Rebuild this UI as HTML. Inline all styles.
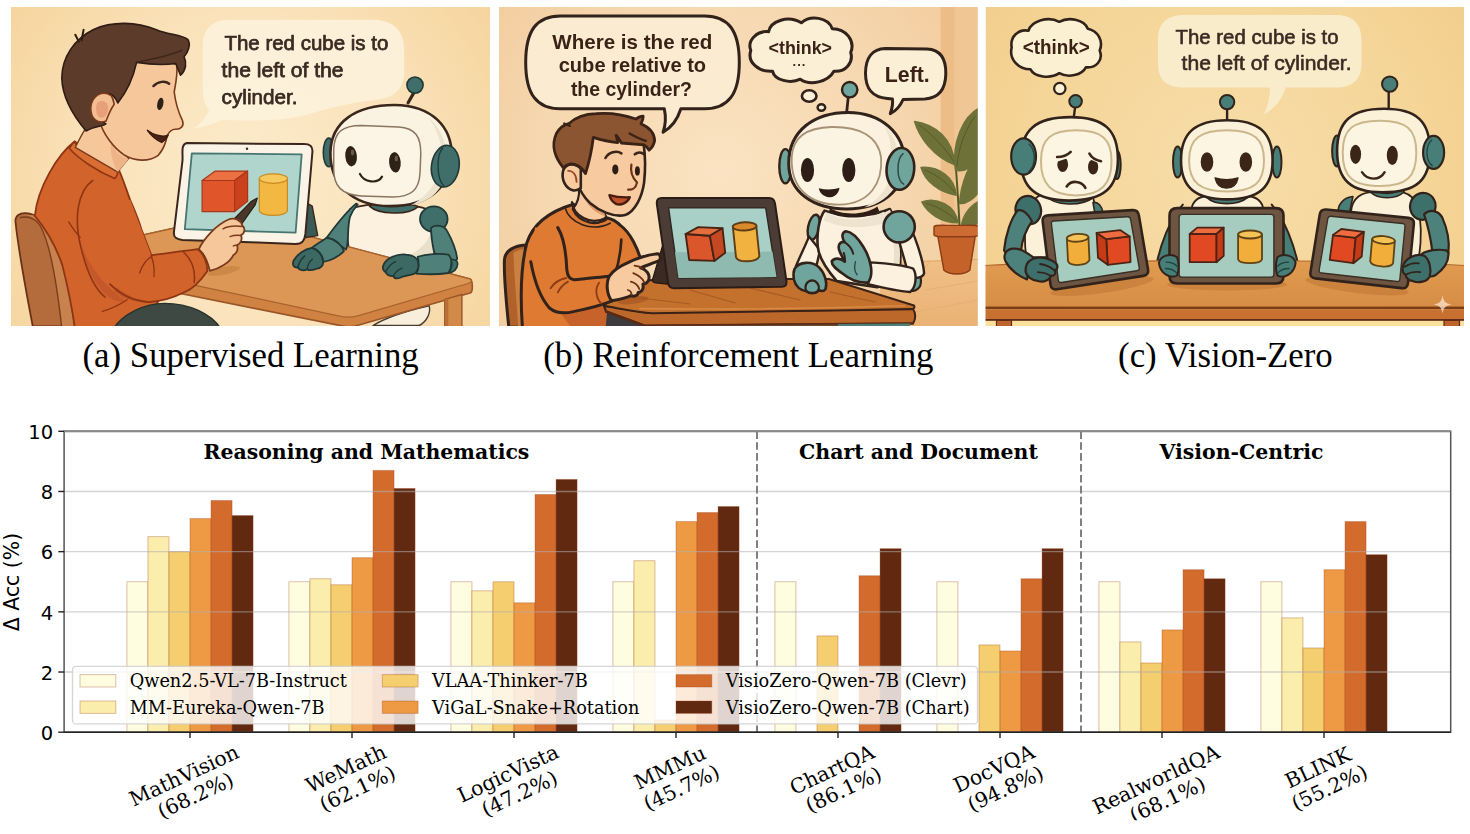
<!DOCTYPE html>
<html lang="en"><head><meta charset="utf-8"><title>Vision-Zero figure</title>
<style>
html,body{margin:0;padding:0;background:#fff;}
body{width:1470px;height:834px;overflow:hidden;}
svg{display:block;}
.cap{font-family:"Liberation Serif","Times New Roman",serif;font-size:34.8px;fill:#000;text-anchor:middle;}
</style></head><body>
<svg width="1470" height="834" viewBox="0 0 1470 834">
<rect width="1470" height="834" fill="#fff"/>
<defs>
<clipPath id="clipA"><rect x="11" y="7" width="479" height="319"/></clipPath>
<clipPath id="clipB"><rect x="499" y="7" width="478.8" height="319"/></clipPath>
<clipPath id="clipC"><rect x="985.5" y="7" width="478.5" height="319"/></clipPath>
<radialGradient id="bgA" gradientUnits="userSpaceOnUse" cx="250" cy="180" r="300">
<stop offset="0" stop-color="#FCEBCB"/><stop offset="0.55" stop-color="#FAE2BA"/><stop offset="1" stop-color="#F6D49C"/>
</radialGradient>
<radialGradient id="bgB" gradientUnits="userSpaceOnUse" cx="720" cy="170" r="300">
<stop offset="0" stop-color="#FAE3C2"/><stop offset="0.6" stop-color="#F6D7AF"/><stop offset="1" stop-color="#F2CB9C"/>
</radialGradient>
<radialGradient id="bgC" gradientUnits="userSpaceOnUse" cx="1225" cy="170" r="300">
<stop offset="0" stop-color="#F8DDA8"/><stop offset="0.6" stop-color="#F5D69A"/><stop offset="1" stop-color="#F2CE8C"/>
</radialGradient>
<linearGradient id="tblC" x1="0" y1="0" x2="0" y2="1"><stop offset="0" stop-color="#E19C52"/><stop offset="1" stop-color="#D68C44"/></linearGradient>
<linearGradient id="floorB" x1="0" y1="0" x2="0" y2="1"><stop offset="0" stop-color="#F0C088"/><stop offset="1" stop-color="#EAB274"/></linearGradient>
<filter id="soft" x="0" y="0" width="100%" height="100%" filterUnits="objectBoundingBox"><feGaussianBlur stdDeviation="0.45"/></filter>
</defs>
<g id="panelA" clip-path="url(#clipA)" filter="url(#soft)" stroke-linejoin="round" stroke-linecap="round">
<rect x="11" y="7" width="479" height="319" fill="url(#bgA)"/>
<path d="M 228 19.8 L 375 19.8 C 395 21 404 32 404.2 50 L 404.2 72 C 404 90 394 98 372 100.5 C 350 103 328 108 308 114.5 C 292 119 270 120.7 250 120.7 L 222 120 C 212 124 204 127 194 128.6 C 202 122 207 116 209 110 C 204 104 202.8 96 202.8 88 L 202.8 45 C 203 30 212 20 228 19.8 Z" fill="#FCF1DA" fill-opacity="0.93"/>
<g font-family="'Liberation Sans', Arial, sans-serif" font-size="21" fill="#3a2a22" stroke="#3a2a22" stroke-width="0.75">
<text x="224.4" y="49.6" textLength="164" lengthAdjust="spacingAndGlyphs">The red cube is to</text>
<text x="221.6" y="76.7" textLength="122" lengthAdjust="spacingAndGlyphs">the left of the</text>
<text x="221.6" y="103.9" textLength="76" lengthAdjust="spacingAndGlyphs">cylinder.</text>
</g>
<path d="M 15.4 221.0 C 15.4 215.6 19.6 212.8 25.8 213.2 C 30.5 213.7 34.4 214.8 36.7 217.1 C 46.8 226.5 56.2 245.2 62.4 265.5 C 67.1 284.2 71.0 306.0 74.1 326.5 L 32.8 326.5 C 26.6 293.5 18.8 254.5 15.4 221.0 Z" fill="#B46C3E" stroke="#6b3216" stroke-width="1.8"/>
<path d="M 25.8 215.6 C 31.3 215.6 35.9 218.7 40.6 226.5 C 50.0 243.6 56.2 277.9 61.6 326.5 L 74.1 326.5 C 71.0 306.0 67.1 284.2 62.4 265.5 C 56.2 245.2 46.8 226.5 36.7 217.1 C 34.4 215.3 29.7 214.3 25.8 215.6 Z" fill="#C8824E"/>
<path d="M 20.4 217.5 C 28.1 215.6 35.9 218.7 40.6 226.5 C 50.0 243.6 56.2 277.9 61.6 326.5" fill="none" stroke="#7a3e1c" stroke-width="1.4"/>
<path d="M 350.3 208.9 C 344.7 224.0 347.5 243.3 350.3 257.1 L 438.5 265.4 C 437.1 243.3 435.7 224.0 430.2 210.3 C 410.9 202.0 369.5 202.0 350.3 208.9 Z" fill="#FBF1DE" stroke="#3a261c" stroke-width="1.8"/>
<path d="M 410.9 254.4 C 421.9 248.8 432.9 237.8 432.9 221.3 C 437.1 237.8 437.4 254.4 437.4 264.8 Z" fill="#EADFC8"/>
<path d="M 373.0 325.5 C 386.2 317.6 406.0 311.0 429.2 305.8 C 431.0 312.3 427.1 321.6 419.2 325.5 Z" fill="#F8EEDC" stroke="#4a3a2e" stroke-width="1.4"/>
<path d="M 369.5 206.1 C 377.8 214.4 408.1 215.8 417.8 206.9 C 416.4 203.4 372.3 202.5 369.5 206.1 Z" fill="#3F6E6A" stroke="#3a261c" stroke-width="1.6"/>
<path d="M 134.9 236.9 L 176.5 227.6 L 306.3 235.7 L 470.4 279.1 C 472.9 281.0 472.9 290.8 470.9 292.8 L 359.0 325.1 C 351.7 327.6 345.5 327.1 338.2 325.1 L 166.7 290.8 L 169.2 279.8 Z" fill="#CF8242" stroke="#9a5626" stroke-width="1.6"/>
<path d="M 134.9 236.9 L 176.5 227.6 L 306.3 235.7 L 470.4 279.1 C 472.4 280.5 470.9 282.5 468.0 283.5 L 357.8 315.8 C 350.4 318.0 345.5 317.8 338.2 315.8 L 169.2 279.8 Z" fill="#DC9654" stroke="#a9632e" stroke-width="1.2"/>
<path d="M 444.7 299.4 L 461.9 294.5 L 461.9 327.6 L 444.7 327.6 Z" fill="#D28A48" stroke="#9a5626" stroke-width="1.4"/>
<path d="M 444.7 299.4 L 448.4 298.4 L 448.4 327.6 L 444.7 327.6 Z" fill="#B96E34"/>
<path d="M 307.5 203.4 L 312.2 206.1 L 317.7 235.6 L 303.9 237.8 Z" fill="#3b5a57" stroke="#3a261c" stroke-width="1.4"/>
<path d="M 187.1 143.1 C 180.1 144.1 183.3 154.3 182.4 161.4 L 174.0 231.5 C 173.1 237.6 176.8 239.5 182.4 239.9 L 295.6 243.9 C 302.6 243.9 304.5 240.4 305.4 233.9 L 312.4 152.0 C 312.9 145.9 309.6 144.1 304.0 144.1 Z" fill="#FBF4E6" stroke="#3a261c" stroke-width="2"/>
<path d="M 191.8 153.4 L 301.7 154.3 L 295.6 232.7 L 184.8 229.2 Z" fill="#B0D5CC" stroke="#467670" stroke-width="1.8"/>
<ellipse cx="247.0" cy="148.7" rx="1.2" ry="1.2" fill="#3a2a22"/>
<path d="M 202.1 180.5 L 234.6 180.5 L 234.6 211.6 L 202.1 211.6 Z" fill="#E1552B" stroke="#a8361a" stroke-width="1.2"/>
<path d="M 202.1 180.5 L 215.3 171.1 L 247.6 171.1 L 234.6 180.5 Z" fill="#EC6F42" stroke="#a8361a" stroke-width="1.2"/>
<path d="M 234.6 180.5 L 247.6 171.1 L 247.6 201.4 L 234.6 211.6 Z" fill="#C9431F" stroke="#a8361a" stroke-width="1.2"/>
<path d="M 259.3 178.6 L 259.3 210.3 C 259.3 217.1 287.4 217.1 287.4 210.3 L 287.4 178.6 Z" fill="#F3B843" stroke="#c98a22" stroke-width="1.2"/>
<ellipse cx="273.4" cy="178.6" rx="14.1" ry="4.7" fill="#F7C95C" stroke="#c98a22" stroke-width="1.2"/>
<path d="M 356.1 203.6 C 346.9 211.2 335.0 226.3 326.4 238.1 C 330.7 237.6 337.2 240.3 340.4 245.7 L 346.0 249.5 C 349.0 245.7 346.9 227.4 350.1 216.6 C 352.3 211.2 355.5 206.9 357.7 204.5 Z" fill="#4F807A" stroke="#203836" stroke-width="1.8"/>
<path d="M 326.4 238.1 C 321.0 241.4 315.6 244.6 311.8 247.9 C 317.8 248.9 323.1 255.4 323.1 261.9 C 330.7 260.8 337.2 257.6 343.9 251.3 C 342.6 245.7 333.9 238.1 326.4 238.1 Z" fill="#4F807A" stroke="#203836" stroke-width="1.8"/>
<path d="M 311.8 247.9 C 304.8 248.9 297.3 254.3 293.5 260.8 C 291.9 265.1 294.0 267.8 297.8 267.5 C 299.4 270.5 303.7 271.1 307.0 269.4 C 309.1 270.5 313.4 270.0 316.1 268.9 C 321.0 268.4 323.7 265.1 323.1 261.3 C 322.6 255.4 317.8 249.5 311.8 247.9 Z" fill="#3E6965" stroke="#203836" stroke-width="1.8"/>
<path d="M 297.8 267.5 C 298.9 263.0 301.6 258.6 304.8 255.9 M 307.0 269.4 C 307.5 265.1 309.7 261.3 312.4 259.2" fill="none" stroke="#203836" stroke-width="1.4"/>
<ellipse cx="433.8" cy="219.1" rx="13.8" ry="12.7" fill="#3F6E6A" stroke="#203836" stroke-width="1.8"/>
<path d="M 431.0 227.9 C 435.0 224.0 444.2 225.3 446.9 230.6 C 452.1 239.8 456.1 249.0 457.2 258.9 C 456.1 261.6 452.1 262.5 450.6 259.8 C 445.5 256.9 438.9 254.6 434.3 253.2 C 432.3 243.7 431.0 235.8 431.0 227.9 Z" fill="#4F807A" stroke="#203836" stroke-width="1.8"/>
<path d="M 450.6 259.6 C 454.8 259.1 457.7 260.9 457.7 263.8 C 457.2 269.1 453.5 272.2 448.2 273.0 C 452.1 267.8 452.1 262.5 450.6 259.6 Z" fill="#3F6E6A" stroke="#203836" stroke-width="1.6"/>
<path d="M 417.6 256.9 C 425.8 254.0 440.3 253.0 448.4 254.6 C 452.4 258.5 452.4 267.8 448.4 273.0 C 438.9 274.4 425.8 274.4 416.3 273.6 C 418.6 268.8 419.2 262.2 417.6 256.9 Z" fill="#4F807A" stroke="#203836" stroke-width="1.8"/>
<path d="M 383.5 264.9 C 386.2 258.3 396.7 253.6 406.0 254.6 C 412.6 255.0 417.2 257.6 418.1 262.2 C 419.2 267.5 417.2 272.8 413.9 273.8 C 408.6 275.4 402.0 276.1 399.4 278.0 C 396.7 278.7 394.1 278.0 393.4 276.1 C 390.1 276.1 386.8 274.7 385.5 272.1 C 382.9 270.8 382.2 267.5 383.5 264.9 Z" fill="#3E6965" stroke="#203836" stroke-width="1.8"/>
<path d="M 385.5 272.1 C 387.5 267.5 391.5 263.5 395.4 261.6 M 393.4 276.1 C 395.4 272.1 398.7 269.5 402.0 268.2" fill="none" stroke="#203836" stroke-width="1.4"/>
<ellipse cx="328.8" cy="152.4" rx="5.5" ry="14.3" fill="#3F6E6A" stroke="#203836" stroke-width="1.6"/>
<path d="M 408.1 102.8 L 416.4 88.4" fill="none" stroke="#3a261c" stroke-width="3.2"/>
<ellipse cx="415.0" cy="85.1" rx="8.1" ry="8.1" fill="#3F6E6A" stroke="#203836" stroke-width="1.6"/>
<path d="M 330.4 152.4 C 331.0 122.1 355.8 105.0 394.4 105.0 C 432.9 105.5 451.7 127.6 451.7 155.1 C 451.7 185.4 430.2 206.1 390.2 206.1 C 350.3 206.1 329.9 182.7 330.4 152.4 Z" fill="#FBF3E2" stroke="#3a261c" stroke-width="2.6"/>
<path d="M 427.4 116.5 C 444.0 130.3 452.2 155.1 444.0 179.9 C 438.5 193.7 427.4 202.0 410.9 205.3 C 432.9 193.7 444.0 171.7 441.2 149.6 C 439.8 135.8 434.3 124.8 427.4 116.5 Z" fill="#EDE2CC"/>
<path d="M 333.7 149.6 C 334.3 131.7 342.5 125.4 361.3 125.4 L 398.5 127.0 C 415.9 128.1 420.8 137.2 420.8 153.7 L 420.0 173.0 C 419.2 190.4 410.3 197.0 393.0 197.0 L 361.3 195.9 C 341.4 194.8 333.7 186.0 333.7 168.9 Z" fill="#FCF4E4" stroke="#8a7460" stroke-width="1.5"/>
<ellipse cx="445.3" cy="166.2" rx="13.8" ry="20.9" fill="#3F6E6A" stroke="#203836" stroke-width="1.6" transform="rotate(8 445.3 166.2)"/>
<path d="M 442.6 148.2 C 436.3 155.1 436.3 178.6 444.0 186.0" fill="none" stroke="#203836" stroke-width="1.3"/>
<ellipse cx="351.1" cy="156.2" rx="5.8" ry="10.2" fill="#2e2019" transform="rotate(-5 351.1 156.2)"/>
<ellipse cx="394.9" cy="162.3" rx="5.8" ry="10.2" fill="#2e2019" transform="rotate(-5 394.9 162.3)"/>
<ellipse cx="352.5" cy="152.4" rx="1.7" ry="2.8" fill="#6b5a4e"/>
<ellipse cx="396.3" cy="158.4" rx="1.7" ry="2.8" fill="#6b5a4e"/>
<path d="M 359.9 173.9 C 364.0 182.7 377.8 184.1 382.0 176.6" fill="none" stroke="#2e2019" stroke-width="2.2"/>
<path d="M 74.8 141.3 C 56.9 155.1 37.6 188.2 34.8 215.8 C 48.6 232.3 56.9 248.8 62.4 265.4 C 67.9 287.4 72.0 306.7 75.0 328.8 L 139.5 328.8 C 153.3 315.0 164.4 292.9 164.4 276.4 L 151.4 255.2 L 141.5 229.5 C 137.3 215.8 132.7 206.1 130.2 200.1 C 125.8 188.2 121.6 174.4 116.9 165.6 C 103.7 162.0 87.2 152.4 74.8 141.3 Z" fill="#D2632B" stroke="#8e3513" stroke-width="1.8"/>
<path d="M 113.4 328.8 C 123.0 313.6 145.1 303.4 164.4 303.4 C 189.2 303.4 211.2 313.6 220.9 328.8 Z" fill="#3E4A42" stroke="#26302a" stroke-width="1.4"/>
<path d="M 79.6 239.0 C 85.8 262.3 104.5 287.3 126.3 301.3 C 118.5 302.9 110.7 299.7 104.5 293.5 C 92.0 281.0 82.7 259.2 79.6 239.0 Z" fill="#C5582A"/>
<path d="M 68.7 221.8 C 72.6 228.1 76.5 233.5 80.3 237.4 M 102.2 311.4 C 110.7 309.1 120.1 304.4 127.1 299.7" fill="none" stroke="#8e3513" stroke-width="1.3"/>
<path d="M 92.7 180.5 C 77.5 191.0 73.9 218.5 80.6 246.1 C 85.8 268.1 92.7 287.4 105.1 297.1" fill="none" stroke="#8e3513" stroke-width="1.6"/>
<path d="M 130.3 200.0 L 151.3 255.3 L 183.3 251.4 L 197.3 249.1 C 203.5 253.0 207.4 262.4 207.4 270.9 C 200.4 281.1 192.6 288.9 184.8 292.0 C 175.5 296.7 161.4 301.3 149.0 302.1 C 133.4 301.3 119.4 293.5 110.0 284.2 L 110.0 200.0 Z" fill="#D2632B"/>
<path d="M 116.2 287.3 C 127.1 296.7 141.2 301.0 152.1 301.3 C 141.2 304.1 124.0 299.8 114.7 291.2 Z" fill="#BD5424"/>
<path d="M 151.3 255.3 C 161.4 253.8 175.5 252.2 197.3 249.1 C 203.5 253.0 207.4 262.4 207.4 270.9 C 200.4 281.1 192.6 288.9 184.8 292.0 C 175.5 296.7 161.4 301.3 149.0 302.1 C 133.4 301.3 119.4 293.5 110.0 284.2" fill="none" stroke="#8e3513" stroke-width="1.8"/>
<path d="M 183.3 251.8 C 191.1 259.2 195.7 270.2 194.2 282.3" fill="none" stroke="#8e3513" stroke-width="1.5"/>
<path d="M 139.6 273.0 C 143.1 262.4 148.7 258.0 152.1 256.1 M 154.0 276.7 C 154.6 268.6 153.7 262.4 151.5 257.1" fill="none" stroke="#8e3513" stroke-width="1.3"/>
<path d="M 73.9 141.9 C 81.7 151.0 101.0 162.0 116.9 166.2 C 118.9 171.7 117.5 175.8 114.7 178.6 C 98.2 171.7 78.9 159.3 69.3 148.2 Z" fill="#DA6E33" stroke="#8e3513" stroke-width="1.6"/>
<ellipse cx="223.8" cy="270.9" rx="16.4" ry="3.7" fill="#B8763A" transform="rotate(-12 223.8 270.9)" fill-opacity="0.45"/>
<path d="M 229.7 223.4 L 251.1 201.6 L 257.3 198.1 L 255.3 204.7 L 238.2 229.0 Z" fill="#4a372c" stroke="#2a1c14" stroke-width="1.2"/>
<path d="M 198.9 249.1 C 203.5 239.0 216.0 224.9 228.5 219.5 C 234.7 217.1 241.0 220.3 242.5 225.7 C 245.6 228.1 244.9 233.5 241.0 235.1 C 242.5 239.0 241.0 243.7 237.1 245.2 C 238.6 249.9 236.3 253.8 233.2 255.3 C 230.0 262.4 219.1 268.6 209.8 270.9 C 207.9 262.4 204.3 253.8 198.9 249.1 Z" fill="#F6C79A" stroke="#7a3a1c" stroke-width="1.8"/>
<path d="M 223.0 228.8 C 228.5 225.7 236.3 225.7 242.5 226.5 M 230.0 236.6 C 233.9 235.1 237.8 235.1 241.0 235.5 M 233.2 246.0 C 234.7 245.2 236.3 245.2 237.5 245.5" fill="none" stroke="#7a3a1c" stroke-width="1.4"/>
<path d="M 86.1 115.8 L 112.8 115.8 C 112.8 139.5 120.8 151.4 128.7 158.3 C 124.7 163.2 120.8 167.2 117.8 172.1 L 75.3 147.4 C 78.2 141.5 82.2 133.6 86.1 127.6 Z" fill="#F6C79A" stroke="#7a3a1c" stroke-width="1.4"/>
<path d="M 110.9 141.5 C 114.8 151.4 120.8 157.3 128.7 158.9 L 117.8 172.1 C 112.8 163.2 109.9 153.3 110.9 141.5 Z" fill="#EDB488"/>
<path d="M 120.8 62.4 C 140.5 60.4 164.3 60.4 176.5 64.3 C 178.1 72.2 175.7 84.1 174.2 92.0 C 175.2 99.9 178.1 111.8 182.5 120.7 C 184.4 125.6 181.1 129.6 175.2 129.2 C 171.2 129.2 169.2 131.6 167.2 135.5 C 166.2 141.5 163.3 149.4 158.3 155.3 C 148.4 162.2 134.6 161.2 124.7 155.3 C 112.8 147.4 103.0 133.6 99.0 119.7 L 95.0 84.1 Z" fill="#F6C79A" stroke="#7a3a1c" stroke-width="1.6"/>
<path d="M 147.4 130.3 C 150.9 135.4 156.0 139.6 161.7 142.5 C 164.6 140.9 166.8 138.4 168.2 135.2 C 161.1 137.6 152.9 134.7 147.4 130.3 Z" fill="#4a2416" stroke="#3a1a0e" stroke-width="1.4"/>
<ellipse cx="160.3" cy="103.9" rx="3.0" ry="6.3" fill="#2e2019" transform="rotate(12 160.3 103.9)"/>
<path d="M 153.4 86.1 C 158.3 81.1 165.3 80.6 169.2 83.7" fill="none" stroke="#3a261c" stroke-width="2.4"/>
<path d="M 86.1 131.0 C 73.3 115.8 62.4 98.0 61.8 78.2 C 61.8 56.4 75.3 38.6 93.1 29.7 C 112.8 20.8 136.6 21.8 156.4 29.7 C 168.2 34.7 182.1 34.7 188.0 39.6 C 191.0 44.6 188.0 52.5 184.1 56.8 C 187.0 62.4 186.0 70.3 180.5 75.2 C 178.5 70.3 177.1 66.3 175.7 63.5 C 162.3 65.3 148.4 64.3 136.6 62.4 C 133.6 76.2 126.7 92.0 117.8 102.9 C 115.8 98.0 112.8 95.0 109.9 94.0 C 103.0 92.0 97.0 98.0 96.6 107.8 C 96.6 115.8 100.0 121.7 105.9 123.7 C 103.0 126.6 95.0 125.6 86.1 131.0 Z" fill="#5B3A2A" stroke="#2e1c14" stroke-width="1.6"/>
<path d="M 75.3 34.7 L 78.8 41.6 M 83.6 29.7 L 81.6 40.2" fill="none" stroke="#2e1c14" stroke-width="2"/>
<path d="M 136.6 62.4 C 148.4 59.4 168.2 56.8 182.1 50.1" fill="none" stroke="#3d251a" stroke-width="1.4"/>
<path d="M 111.1 95.6 C 103.4 89.9 91.8 94.6 90.8 107.8 C 90.4 119.1 97.9 124.1 106.1 121.1 C 108.1 116.0 110.1 109.9 114.2 104.2 C 113.6 100.7 112.6 97.6 111.1 95.6 Z" fill="#F3BE92" stroke="#7a3a1c" stroke-width="1.6"/>
<path d="M 97.3 102.7 C 102.0 98.7 109.1 101.7 108.1 109.9 C 107.1 117.0 102.0 119.1 98.9 117.0 C 95.9 114.0 95.3 106.8 97.3 102.7 Z" fill="#E8A07A"/>
</g><g id="panelB" clip-path="url(#clipB)" filter="url(#soft)" stroke-linejoin="round" stroke-linecap="round">
<rect x="499" y="7" width="478.8" height="319" fill="url(#bgB)"/>
<rect x="940.7" y="7" width="14" height="260" fill="#EDBD88"/>
<rect x="954.7" y="7" width="24" height="260" fill="#F0C694"/>
<path d="M 880 262 L 978 259 L 978 326 L 880 326 Z" fill="url(#floorB)"/>
<path d="M 905 262 L 978 259.5" stroke="#E2A868" stroke-width="1.2"/>
<path d="M 925 290 L 978 281 M 915 312 L 978 300 M 930 262 L 905 290" stroke="#E6B074" stroke-width="1"/>
<path d="M 959.6 229.5 C 958.8 204.7 956.9 182.7 955.0 155.1" fill="none" stroke="#565a28" stroke-width="2"/>
<path d="M 955.5 170.3 C 951.4 141.3 963.8 116.5 978.9 108.3 L 978.9 156.5 C 973.4 167.5 963.8 172.2 955.5 170.3 Z" fill="#6E7238" stroke="#6E7238" stroke-width="1.6"/>
<path d="M 954.7 164.8 C 933.5 156.5 919.1 137.2 914.7 121.5 C 934.8 124.3 953.3 138.6 954.7 164.8 Z" fill="#6E7238" stroke="#6E7238" stroke-width="1.6"/>
<path d="M 956.1 195.1 C 939.0 192.3 925.2 181.3 921.1 167.5 C 939.5 166.2 955.0 177.7 956.1 195.1 Z" fill="#6E7238" stroke="#6E7238" stroke-width="1.6"/>
<path d="M 957.7 222.7 C 941.7 222.7 927.9 213.6 921.9 202.0 C 936.8 197.0 956.1 205.3 957.7 222.7 Z" fill="#6E7238" stroke="#6E7238" stroke-width="1.6"/>
<path d="M 959.6 203.4 C 961.0 182.7 969.3 163.4 978.9 153.7 L 978.9 192.3 C 972.6 199.8 966.5 204.2 959.6 203.4 Z" fill="#6E7238" stroke="#6E7238" stroke-width="1.6"/>
<path d="M 961.0 228.2 C 962.4 215.8 969.3 206.1 978.9 201.4 L 978.9 222.7 C 972.6 226.2 966.5 228.4 961.0 228.2 Z" fill="#6E7238" stroke="#6E7238" stroke-width="1.6"/>
<path d="M 956.9 166.2 C 958.3 146.9 966.5 127.6 974.8 116.5 M 954.1 162.0 C 944.5 146.9 930.7 133.1 919.7 125.4 M 955.5 193.2 C 947.2 182.7 936.2 174.4 925.2 170.3 M 956.9 220.7 C 947.2 211.6 936.2 206.1 926.6 203.4" fill="none" stroke="#565a28" stroke-width="1"/>
<path d="M 937.6 235.1 L 975.4 235.1 L 969.8 270.3 C 963.8 275.3 950.0 275.3 943.9 270.3 Z" fill="#C4622A" stroke="#8a3c16" stroke-width="1.4"/>
<path d="M 934.0 227.3 C 934.0 224.6 939.0 225.4 955.5 225.4 C 972.0 225.4 978.7 224.6 978.7 227.3 L 978.7 234.5 C 978.7 237.0 972.0 236.7 955.5 236.7 C 939.0 236.7 934.0 237.0 934.0 234.5 Z" fill="#CC6C32" stroke="#8a3c16" stroke-width="1.4"/>
<path d="M 504.4 260.0 C 505.0 250.4 514.6 245.6 525.6 245.0 L 524.8 327.2 L 508.8 327.2 C 506.2 302.0 503.8 278.0 504.4 260.0 Z" fill="#B0622C" stroke="#33221a" stroke-width="3"/>
<path d="M 513.4 252.8 C 517.0 250.4 521.8 249.2 525.1 249.0 L 524.4 327.2 L 518.2 327.2 C 517.0 302.0 514.0 278.0 513.4 252.8 Z" fill="#C9803F"/>
<ellipse cx="813.7" cy="227.3" rx="5.6" ry="12.8" fill="#6FA59D" stroke="#33221a" stroke-width="2.4" transform="rotate(12 813.7 227.3)"/>
<path d="M 809.0 236.6 C 804.8 246.8 799.4 257.7 795.9 266.3 L 815.7 268.6 C 817.3 262.4 818.8 256.1 819.9 249.9 Z" fill="#FBF1DE" stroke="#33221a" stroke-width="2.4"/>
<path d="M 824.6 210.6 C 818.8 218.7 816.5 234.3 817.8 246.8 C 818.8 257.7 825.9 268.6 836.8 281.1 L 877.3 287.3 L 899.2 273.3 C 902.3 251.5 899.2 223.4 889.8 209.0 C 871.1 217.2 843.0 217.2 824.6 210.6 Z" fill="#FBF1DE" stroke="#33221a" stroke-width="2.6"/>
<path d="M 883.6 213.3 C 892.9 228.1 896.0 249.9 892.9 268.6 L 899.2 268.6 C 901.5 249.9 899.2 224.9 889.8 209.7 Z" fill="#EBE0CA"/>
<path d="M 826.6 212.5 C 841.5 221.8 864.8 221.8 883.6 211.7 C 886.7 215.6 888.2 218.7 889.0 221.8 C 868.0 229.6 841.5 228.8 823.5 220.3 Z" fill="#EDE3CF"/>
<path d="M 829.8 208.1 C 841.5 215.6 864.8 215.6 877.3 206.5 L 879.2 210.9 C 866.4 219.5 841.5 219.5 829.0 212.2 Z" fill="#2e1f18"/>
<path d="M 910.1 268.6 C 919.4 270.2 922.5 278.0 920.2 285.8 C 917.1 292.0 910.1 292.0 906.2 288.9 Z" fill="#6FA59D" stroke="#33221a" stroke-width="2.2"/>
<path d="M 897.6 235.9 C 903.8 229.6 913.2 230.4 914.7 237.4 C 919.4 249.9 923.3 262.4 924.1 273.3 C 922.5 278.0 914.7 279.5 908.5 274.8 C 905.4 262.4 901.5 249.9 897.6 235.9 Z" fill="#FBF1DE" stroke="#33221a" stroke-width="2.4"/>
<path d="M 870.3 262.4 C 883.6 263.2 902.3 264.7 913.2 268.6 C 917.1 274.8 916.3 287.3 910.1 292.0 C 897.6 291.2 880.4 287.3 868.0 284.2 Z" fill="#FBF1DE" stroke="#33221a" stroke-width="2.4"/>
<ellipse cx="899.2" cy="226.8" rx="15.6" ry="15.6" fill="#6FA59D" stroke="#33221a" stroke-width="2.6"/>
<path d="M 868.0 282.6 C 874.2 274.8 871.1 259.3 863.3 246.8 C 858.6 239.0 852.4 232.0 846.1 231.2 C 841.5 232.0 841.5 237.4 844.6 242.1 C 841.5 241.3 838.3 243.7 838.7 247.6 C 839.1 253.0 843.0 256.9 844.9 261.6 C 839.9 257.7 834.4 257.7 831.8 261.1 C 831.3 265.5 836.8 269.4 842.2 273.3 C 847.7 278.0 855.5 283.4 868.0 282.6 Z" fill="#6FA59D" stroke="#33221a" stroke-width="2.6"/>
<path d="M 844.6 242.1 C 849.3 245.2 852.4 249.9 853.2 253.8 M 844.9 261.6 C 845.5 258.5 844.6 255.4 843.8 253.0" fill="none" stroke="#33221a" stroke-width="2"/>
<path d="M 855.5 261.6 C 853.9 267.1 854.7 271.7 857.1 274.8" fill="none" stroke="#2f4a46" stroke-width="1.4"/>
<ellipse cx="785.4" cy="166.2" rx="6.1" ry="17.1" fill="#6FA59D" stroke="#33221a" stroke-width="2.4"/>
<path d="M 846.6 113.2 L 848.8 91.7" fill="none" stroke="#33221a" stroke-width="2.8"/>
<ellipse cx="849.7" cy="89.7" rx="7.7" ry="7.7" fill="#6FA59D" stroke="#33221a" stroke-width="2.4"/>
<path d="M 788.7 163.4 C 788.7 130.3 814.9 112.4 848.0 112.4 C 881.1 112.4 904.5 133.1 904.5 162.0 C 904.5 191.0 881.1 208.9 846.6 208.9 C 813.6 208.9 788.7 192.3 788.7 163.4 Z" fill="#FBF1DE" stroke="#33221a" stroke-width="3"/>
<path d="M 883.8 124.8 C 897.6 138.6 903.7 160.6 896.2 182.7 C 890.7 196.5 878.3 204.7 864.5 207.5 C 885.2 196.5 894.9 177.2 892.1 155.1 C 890.7 141.3 888.0 133.1 883.8 124.8 Z" fill="#EDE2CC"/>
<path d="M 791.8 156.5 C 792.9 135.8 809.4 127.6 831.5 127.0 C 859.0 126.5 878.3 135.8 881.1 157.9 C 882.7 182.7 870.1 203.6 839.7 204.7 C 809.4 204.7 790.1 188.2 791.8 156.5 Z" fill="#FCF4E2" stroke="#A89274" stroke-width="1.8"/>
<ellipse cx="900.4" cy="168.9" rx="13.8" ry="20.9" fill="#6FA59D" stroke="#33221a" stroke-width="2.6" transform="rotate(5 900.4 168.9)"/>
<path d="M 903.1 153.7 C 896.2 159.3 896.2 179.9 903.7 184.1" fill="none" stroke="#2f4a46" stroke-width="1.5"/>
<ellipse cx="807.5" cy="170.0" rx="6.6" ry="12.1" fill="#2e1f18"/>
<ellipse cx="848.8" cy="170.0" rx="6.6" ry="12.1" fill="#2e1f18"/>
<path d="M 818.8 188.2 C 826.0 189.9 832.9 189.9 839.5 187.7 C 838.6 195.1 833.1 197.3 829.0 197.3 C 823.8 196.5 819.9 193.7 818.8 188.2 Z" fill="#2e1f18"/>
<path d="M 573.6 204.2 C 552.9 210.3 533.6 221.3 526.7 243.3 C 520.4 268.1 520.4 301.2 522.6 330.2 L 610.8 330.2 L 616.3 305.3 C 627.3 298.5 638.3 279.2 642.5 265.4 C 638.3 248.8 630.1 232.3 620.4 225.4 C 616.3 221.3 612.1 219.1 607.5 218.0 C 599.7 225.4 583.2 222.7 573.6 204.2 Z" fill="#DE7A32" stroke="#33221a" stroke-width="3"/>
<path d="M 561.4 314.6 C 577.0 312.8 595.0 308.0 606.9 303.8 L 607.5 327.2 L 571.0 327.2 Z" fill="#C7642A"/>
<path d="M 605.7 327.2 L 607.5 306.8 C 616.5 302.0 630.9 306.8 645.9 312.8 L 645.9 327.2 Z" fill="#3C3A3C"/>
<path d="M 604 305.8 L 646 312.4 L 913 309 C 916 313 916 319 913 323.4 L 645 325.8 L 606 311.5 Z" fill="#BC672B" stroke="#3a2218" stroke-width="2"/>
<path d="M 606 311.5 L 645 325.8 L 913 323.4" stroke="#5a2c14" stroke-width="2.4" fill="none"/>
<path d="M 609 300 C 618 288 640 280 662 279 L 829 279 L 914 305.5 C 915 307.5 914 309 911 309.1 C 820 311 720 312.6 652 313.2 C 638 312.5 620 308.5 604 305.8 Z" fill="#C4712F" stroke="#3a2218" stroke-width="2"/>
<path d="M 640 308.6 C 720 309.6 820 308.4 905 305.8" stroke="#D78A44" stroke-width="1.6" fill="none"/>
<path d="M 690 290 L 735 303 M 750 288 L 800 300 M 640 298 L 690 304 M 830 292 L 875 302" stroke="#A85A24" stroke-width="1.2" fill="none"/>
<path d="M 838 324 L 910 323.5 L 910 327 L 838 327 Z" fill="#4d7f78"/>
<path d="M 650 326 L 838 324.5 L 838 327 L 650 327 Z" fill="#6b4630"/>
<path d="M 662.3 246.5 L 652.4 279.8 C 652.0 281.8 654.2 282.9 656.0 282.9 L 672.2 284.7 Z" fill="#3a2a24" stroke="#241812" stroke-width="1.2"/>
<path d="M 661.7 198.0 L 769.3 198.0 C 772.9 198.0 774.3 199.8 775.0 203.4 L 786.4 280.7 C 786.9 285.2 785.5 286.5 781.9 286.7 L 674.0 288.3 C 670.4 288.3 668.9 287.0 668.2 283.4 L 656.9 204.3 C 656.3 199.8 658.1 198.0 661.7 198.0 Z" fill="#4C3C34" stroke="#2a1c16" stroke-width="2"/>
<path d="M 668.6 207.9 L 765.7 207.9 L 776.5 277.1 L 678.5 278.0 Z" fill="#A9D0C6" stroke="#2f2620" stroke-width="1.4"/>
<path d="M 674.9 252.3 L 772.5 251.6 L 776.5 277.1 L 678.5 278.0 Z" fill="#8FBAAF"/>
<path d="M 685.6 234.0 L 709.9 235.8 L 714.4 260.9 L 689.2 260.0 Z" fill="#DB572A" stroke="#4a2416" stroke-width="1.9"/>
<path d="M 685.6 234.0 L 698.2 227.1 L 722.5 228.2 L 709.9 235.8 Z" fill="#E56E3E" stroke="#4a2416" stroke-width="1.9"/>
<path d="M 709.9 235.8 L 722.5 228.2 L 725.2 252.8 L 714.4 260.9 Z" fill="#C44A20" stroke="#4a2416" stroke-width="1.9"/>
<path d="M 732.9 227.1 L 736.0 257.3 C 738.7 263.1 756.7 262.4 759.4 256.4 L 756.3 226.4 Z" fill="#F2B23F" stroke="#5e3c14" stroke-width="1.9"/>
<ellipse cx="744.6" cy="226.4" rx="11.9" ry="4.1" fill="#DA8A2C" stroke="#5e3c14" stroke-width="1.9" transform="rotate(-2 744.6 226.4)"/>
<path d="M 794.7 268.6 C 799.4 261.6 811.8 260.8 818.8 267.1 C 825.1 273.3 827.4 282.6 825.6 288.9 C 823.5 292.0 820.4 291.2 818.8 289.7 C 817.3 293.6 810.3 294.3 806.4 291.2 C 800.9 290.4 795.5 286.5 793.9 279.5 C 793.1 274.8 793.4 271.7 794.7 268.6 Z" fill="#6FA59D" stroke="#33221a" stroke-width="2.6"/>
<path d="M 806.4 291.2 C 804.0 286.5 806.4 281.1 811.8 280.3 C 816.5 280.3 819.6 285.0 818.8 289.7" fill="none" stroke="#33221a" stroke-width="2.2"/>
<path d="M 557.8 227.6 C 563.8 237.2 566.2 254.0 566.8 269.6 C 567.4 275.6 569.8 279.4 574.0 279.8 C 583.0 279.2 597.4 277.4 609.3 276.2 C 606.3 284.0 606.9 294.8 612.3 300.8 C 602.1 305.0 587.8 308.6 573.4 311.6 C 563.8 314.0 555.4 312.8 549.4 308.0 C 539.8 297.2 533.8 278.0 530.8 261.8 L 535.0 227.6 Z" fill="#DE7A32"/>
<path d="M 557.8 227.6 C 563.8 237.2 566.2 254.0 566.8 269.6 C 567.4 275.6 569.8 279.4 574.0 279.8 C 583.0 279.2 597.4 277.4 609.3 276.2" fill="none" stroke="#33221a" stroke-width="3"/>
<path d="M 530.8 261.8 C 533.8 278.0 539.8 297.2 549.4 308.0 C 555.4 312.8 563.8 314.0 573.4 311.6 C 587.8 308.6 602.1 305.0 612.3 300.8" fill="none" stroke="#33221a" stroke-width="3"/>
<path d="M 599.1 282.8 C 595.2 287.6 595.2 297.2 601.2 303.4" fill="none" stroke="#8a3c16" stroke-width="1.8"/>
<path d="M 550.6 288.2 C 554.2 282.8 560.2 279.2 566.2 278.0 M 557.8 292.4 C 560.2 287.6 563.8 284.0 568.0 281.6" fill="none" stroke="#8a3c16" stroke-width="1.8"/>
<path d="M 621.3 239.6 C 620.7 251.6 618.3 264.8 614.7 274.6" fill="none" stroke="#33221a" stroke-width="2.6"/>
<ellipse cx="633.3" cy="300.2" rx="15.6" ry="3.6" fill="#9a4e1e" transform="rotate(-8 633.3 300.2)" fill-opacity="0.5"/>
<path d="M 609.3 276.2 C 612.9 270.8 620.1 266.0 628.5 262.4 C 636.9 258.2 648.9 254.6 657.3 253.7 C 660.9 253.7 661.2 260.0 658.5 260.9 C 653.7 263.0 646.5 265.4 640.5 267.8 C 646.5 269.6 650.1 274.4 648.9 279.2 C 647.7 282.8 645.3 284.0 642.9 284.0 C 644.1 288.8 641.7 292.4 638.1 292.4 C 638.1 295.4 634.5 297.2 630.9 295.4 C 626.1 298.4 617.7 299.6 611.7 300.8 C 606.9 294.8 605.7 284.0 609.3 276.2 Z" fill="#F7CB9F" stroke="#33221a" stroke-width="3"/>
<path d="M 634.5 265.7 C 638.1 266.2 640.5 266.9 642.3 268.4 M 633.3 273.2 C 639.3 275.6 642.9 279.2 644.7 282.8 M 630.9 281.6 C 635.7 282.8 638.1 285.2 639.3 289.0 M 627.9 290.0 C 630.3 290.6 631.5 292.4 631.5 294.8" fill="none" stroke="#6b3018" stroke-width="1.8"/>
<path d="M 579.0 187.3 C 579.8 196.7 576.6 204.5 572.7 209.1 C 579.0 223.2 599.2 227.8 606.3 216.9 L 602.4 209.1 Z" fill="#F7CB9F" stroke="#33221a" stroke-width="2.2"/>
<path d="M 580.8 192.0 C 586.8 206.0 596.1 213.8 605.5 216.2 L 603.1 209.1 C 594.6 207.6 586.8 201.3 580.8 192.0 Z" fill="#E29A66"/>
<path d="M 572.0 202.1 C 573.5 215.4 589.9 226.3 606.3 217.7" fill="none" stroke="#33221a" stroke-width="2.4"/>
<path d="M 564.9 207.6 C 569.6 223.2 591.4 232.5 610.2 223.2" fill="none" stroke="#33221a" stroke-width="1.6"/>
<path d="M 586.8 135.9 L 643.7 144.4 C 645.4 156.1 645.4 170.2 644.1 182.6 C 642.1 196.7 635.1 211.5 625.0 215.1 C 613.3 217.7 599.2 210.7 589.9 202.9 C 583.7 196.7 579.8 190.4 578.2 184.2 L 575.9 162.4 Z" fill="#F7CB9F" stroke="#33221a" stroke-width="2.6"/>
<path d="M 580.8 168.6 C 575.1 162.4 565.7 163.1 563.1 170.9 C 561.0 179.5 565.7 188.9 573.5 190.4 C 576.6 190.7 579.0 189.6 580.8 188.1 Z" fill="#F7CB9F" stroke="#33221a" stroke-width="2.6"/>
<path d="M 568.1 170.9 C 572.7 170.2 576.6 174.8 576.6 181.9" fill="none" stroke="#9a4a26" stroke-width="1.8"/>
<ellipse cx="615.3" cy="169.4" rx="3.1" ry="5.0" fill="#2e1f18"/>
<ellipse cx="637.4" cy="170.9" rx="2.5" ry="4.7" fill="#2e1f18"/>
<path d="M 605.5 158.0 C 608.6 152.2 616.4 150.2 621.4 153.3 M 634.8 154.3 C 637.9 151.8 641.7 152.1 644.1 154.3" fill="none" stroke="#3a261c" stroke-width="2.6"/>
<path d="M 631.4 164.7 C 629.6 173.3 633.5 178.7 637.0 182.6 C 635.9 188.1 632.0 190.1 628.1 189.6" fill="none" stroke="#6b3018" stroke-width="2.2"/>
<path d="M 609.4 195.1 C 614.8 196.7 622.6 197.6 629.8 197.3 C 627.3 203.2 621.1 205.4 616.4 204.1 C 612.5 202.1 610.2 199.0 609.4 195.1 Z" fill="#C0522A" stroke="#4a1e10" stroke-width="2.4"/>
<path d="M 563.4 167.8 C 554.8 157.7 550.9 145.2 556.4 133.5 C 559.5 128.1 563.4 124.9 568.8 123.7 C 575.9 117.1 585.2 114.0 596.1 113.7 C 610.2 112.5 624.2 114.8 635.9 119.0 C 639.0 116.8 641.3 115.9 643.2 116.2 C 643.2 119.5 642.1 121.8 641.0 123.7 C 649.1 127.3 654.6 133.5 654.6 140.8 C 653.8 145.2 651.5 148.3 649.1 150.2 C 647.6 147.6 646.0 146.0 644.1 144.9 C 637.4 144.4 629.6 143.7 621.4 143.0 C 619.5 139.8 618.0 137.4 616.1 135.2 C 617.2 138.2 617.6 140.8 617.6 142.7 C 608.6 141.8 600.8 139.8 593.3 137.4 C 592.2 146.8 589.1 162.4 585.5 173.6 C 583.7 170.2 580.8 167.4 577.4 165.5 C 572.0 162.7 566.5 163.9 563.4 167.8 Z" fill="#8C5431" stroke="#3a2216" stroke-width="2.8"/>
<path d="M 564.2 123.4 L 569.9 125.9 M 629.6 133.5 C 635.1 136.6 641.3 139.8 646.0 140.8" fill="none" stroke="#3a2216" stroke-width="2.2"/>
<path d="M 560.3 15.9 L 704.7 15.9 C 728.4 15.9 739.3 30.7 739.3 62.4 C 739.3 94.0 728.4 108.8 704.7 108.8 L 680.9 108.8 C 677.4 119.7 671.4 127.6 663.1 132.2 C 665.9 123.7 665.9 115.8 664.3 108.8 L 560.3 108.8 C 536.5 108.8 525.7 94.0 525.7 62.4 C 525.7 30.7 536.5 15.9 560.3 15.9 Z" fill="#FBEBD0" stroke="#33221a" stroke-width="3"/>
<g font-family="'Liberation Sans', Arial, sans-serif" font-weight="bold" font-size="20.5" fill="#3a2418" text-anchor="middle">
<text x="632.3" y="48.9" textLength="160" lengthAdjust="spacingAndGlyphs">Where is the red</text>
<text x="632.4" y="72.3" textLength="147.5" lengthAdjust="spacingAndGlyphs">cube relative to</text>
<text x="631.4" y="96" textLength="121" lengthAdjust="spacingAndGlyphs">the cylinder?</text>
</g>
<path d="M 750.8 50.5 C 746.9 40.6 756.8 30.7 768.6 31.7 C 770.6 20.8 788.4 14.9 801.3 22.8 C 810.2 14.9 828.0 16.9 832.3 28.7 C 845.8 28.7 855.6 40.6 850.7 52.5 C 853.7 62.4 845.8 72.2 833.9 71.3 C 828.0 82.1 810.2 86.1 800.3 79.2 C 790.4 84.1 774.6 80.2 772.6 71.3 C 758.7 72.2 746.9 62.4 750.8 50.5 Z" fill="#FBEFD6" stroke="#33221a" stroke-width="3"/>
<ellipse cx="809.2" cy="96.0" rx="7.3" ry="5.7" fill="#FBEFD6" stroke="#33221a" stroke-width="2.6"/>
<ellipse cx="821.4" cy="107.5" rx="3.8" ry="3.2" fill="#FBEFD6" stroke="#33221a" stroke-width="2.4"/>
<g font-family="'Liberation Sans', Arial, sans-serif" font-weight="bold" fill="#3a2418" text-anchor="middle">
<text x="800.3" y="54" font-size="18.5" textLength="63.5" lengthAdjust="spacingAndGlyphs">&lt;think&gt;</text>
<text x="799.5" y="65.5" font-size="13" letter-spacing="1">...</text>
</g>
<path d="M 885.3 48.5 L 926.9 48.9 C 940.7 49.5 946.2 58.4 945.8 74.2 C 945.4 90.0 938.7 98.0 924.9 98.9 L 903.1 99.5 C 900.3 105.9 896.4 110.8 890.3 113.6 C 892.4 107.8 893.0 102.9 892.4 98.9 L 887.3 98.4 C 871.5 97.0 865.5 88.1 865.5 73.2 C 865.5 57.4 872.5 48.9 885.3 48.5 Z" fill="#FBEFD6" stroke="#33221a" stroke-width="3"/>
<text x="907.3" y="82.1" font-family="'Liberation Sans', Arial, sans-serif" font-weight="bold" font-size="22" fill="#3a2418" text-anchor="middle" textLength="45" lengthAdjust="spacingAndGlyphs">Left.</text>
</g><g id="panelC" clip-path="url(#clipC)" filter="url(#soft)" stroke-linejoin="round" stroke-linecap="round">
<rect x="985.5" y="7" width="478.5" height="319" fill="url(#bgC)"/>
<path d="M 1044.3 193.7 C 1034.6 196.5 1029.1 204.7 1026.9 215.8 C 1024.1 232.3 1024.7 246.1 1026.3 257.1 L 1096.6 257.1 L 1096.4 210.3 C 1095.3 202.0 1091.1 197.0 1093.9 195.1 Z" fill="#FBF1D8" stroke="#33241a" stroke-width="1.8"/>
<path d="M 1093.0 202.5 C 1098.0 201.4 1102.1 206.1 1103.0 213.0 L 1095.3 215.8 Z" fill="#467E78" stroke="#33241a" stroke-width="1.6"/>
<path d="M 1043.4 194.3 C 1055.3 206.9 1081.5 206.9 1094.7 196.5 L 1093.9 192.3 C 1081.5 200.6 1056.7 200.6 1045.1 190.4 Z" fill="#467E78" stroke="#33241a" stroke-width="1.6"/>
<ellipse cx="1116.8" cy="164.8" rx="3.9" ry="14.3" fill="#467E78" stroke="#33241a" stroke-width="2"/>
<path d="M 1073.8 117.1 L 1075.4 105.0" fill="none" stroke="#33241a" stroke-width="2.4"/>
<ellipse cx="1075.6" cy="101.3" rx="6.3" ry="6.3" fill="#467E78" stroke="#33241a" stroke-width="2"/>
<path d="M 1020.8 159.3 C 1020.8 129.8 1036.0 117.1 1070.4 117.1 C 1104.1 117.1 1117.9 129.8 1117.9 159.3 C 1117.9 187.7 1104.1 200.6 1069.1 200.6 C 1036.0 200.6 1020.8 187.7 1020.8 159.3 Z" fill="#FBF1D8" stroke="#33241a" stroke-width="2.6"/>
<path d="M 1041.0 160.6 C 1041.0 138.6 1051.2 130.3 1076.0 130.3 C 1101.3 130.3 1111.5 138.6 1111.5 160.6 C 1111.8 184.1 1101.3 195.4 1076.0 195.4 C 1051.2 195.4 1040.7 184.1 1041.0 160.6 Z" fill="#FCF5E2" stroke="#CBB78C" stroke-width="2"/>
<ellipse cx="1023.6" cy="156.5" rx="12.4" ry="18.2" fill="#467E78" stroke="#33241a" stroke-width="2.2"/>
<path d="M 1029.1 144.1 C 1036.0 151.0 1036.0 164.8 1028.6 171.7" fill="none" stroke="#23423f" stroke-width="1.3"/>
<ellipse cx="1062.7" cy="164.4" rx="5.4" ry="7.5" fill="#3a2618"/>
<ellipse cx="1093.1" cy="166.9" rx="5.1" ry="7.5" fill="#3a2618"/>
<path d="M 1054.8 158.0 L 1072.0 150.1 L 1073.3 152.7 L 1072.0 156.7 L 1056.2 162.0 Z" fill="#FCF5E2"/>
<path d="M 1087.8 150.8 L 1102.3 159.3 L 1101.7 164.6 L 1087.1 158.0 Z" fill="#FCF5E2"/>
<path d="M 1057.1 157.0 C 1062.1 157.0 1067.4 155.1 1070.7 151.8" fill="none" stroke="#3a2618" stroke-width="2.6"/>
<path d="M 1089.4 153.7 C 1091.8 158.0 1096.4 160.4 1101.0 161.2" fill="none" stroke="#3a2618" stroke-width="2.6"/>
<path d="M 1066.7 186.5 C 1070.7 180.2 1081.2 180.2 1085.4 187.8" fill="none" stroke="#3a2618" stroke-width="2.6"/>
<path d="M 1206.4 196.0 C 1197.7 197.1 1192.6 200.9 1191.4 209.5 L 1263.4 209.5 C 1262.2 200.9 1257.1 197.1 1248.1 196.0 Z" fill="#FBF1D8" stroke="#33241a" stroke-width="1.8"/>
<path d="M 1206.4 197.1 C 1215.0 205.8 1238.1 205.8 1248.1 197.1 L 1246.7 193.7 C 1238.1 200.9 1216.5 200.9 1207.8 193.7 Z" fill="#467E78" stroke="#33241a" stroke-width="1.6"/>
<path d="M 1182.8 204.6 C 1169.5 219.6 1160.3 245.5 1156.9 262.8 C 1156.9 274.9 1168.9 278.6 1179.0 274.9 L 1179.0 209.5 Z" fill="#467E78" stroke="#33241a" stroke-width="2"/>
<path d="M 1271.7 204.6 C 1285.0 219.6 1294.2 245.5 1297.7 262.8 C 1297.7 274.9 1285.6 278.6 1275.5 274.9 L 1275.5 209.5 Z" fill="#467E78" stroke="#33241a" stroke-width="2"/>
<ellipse cx="1177.6" cy="162.0" rx="4.6" ry="15.5" fill="#467E78" stroke="#33241a" stroke-width="2"/>
<ellipse cx="1276.9" cy="162.0" rx="4.6" ry="15.5" fill="#467E78" stroke="#33241a" stroke-width="2"/>
<path d="M 1227.1 120.5 L 1227.1 107.3" fill="none" stroke="#33241a" stroke-width="2.4"/>
<ellipse cx="1227.1" cy="102.1" rx="7.2" ry="7.2" fill="#467E78" stroke="#33241a" stroke-width="2"/>
<path d="M 1181.0 160.5 C 1181.0 132.6 1195.4 120.2 1227.1 120.2 C 1258.8 120.2 1272.6 132.6 1272.6 160.5 C 1272.6 187.3 1258.8 199.4 1227.1 199.4 C 1195.4 199.4 1181.0 187.3 1181.0 160.5 Z" fill="#FBF1D8" stroke="#33241a" stroke-width="2.6"/>
<path d="M 1189.1 160.5 C 1189.1 138.9 1200.0 130.3 1227.1 130.3 C 1254.2 130.3 1264.0 138.9 1264.0 160.5 C 1264.0 182.7 1254.2 191.4 1227.1 191.4 C 1200.0 191.4 1189.1 182.7 1189.1 160.5 Z" fill="#FCF5E2" stroke="#CBB78C" stroke-width="2"/>
<ellipse cx="1207.0" cy="162.0" rx="6.3" ry="9.8" fill="#3a2618"/>
<ellipse cx="1245.8" cy="162.0" rx="6.3" ry="9.8" fill="#3a2618"/>
<path d="M 1215.0 177.8 C 1222.2 180.1 1230.9 180.1 1238.1 177.8 C 1236.6 185.9 1230.9 188.2 1226.5 188.2 C 1221.4 188.2 1216.5 185.0 1215.0 177.8 Z" fill="#3a2618" stroke="#3a2618" stroke-width="1.2"/>
<path d="M 1368.8 192.3 C 1357.8 194.3 1352.3 200.6 1351.2 210.3 C 1349.5 226.8 1350.1 243.3 1352.9 257.1 L 1419.0 257.1 C 1421.8 237.8 1420.7 218.5 1417.9 207.5 C 1415.7 199.2 1410.2 194.3 1403.3 192.3 Z" fill="#FBF1D8" stroke="#33241a" stroke-width="1.8"/>
<path d="M 1370.2 191.8 C 1377.7 199.8 1396.4 199.8 1404.1 191.8 L 1402.5 188.2 C 1395.0 195.1 1378.5 195.1 1371.6 188.2 Z" fill="#467E78" stroke="#33241a" stroke-width="1.6"/>
<path d="M 1352.9 196.5 C 1345.4 197.0 1339.1 202.5 1338.0 210.3 L 1349.5 213.0 Z" fill="#467E78" stroke="#33241a" stroke-width="1.6"/>
<ellipse cx="1337.1" cy="151.0" rx="5.0" ry="15.4" fill="#467E78" stroke="#33241a" stroke-width="2"/>
<path d="M 1388.7 109.6 L 1388.7 91.7" fill="none" stroke="#33241a" stroke-width="2.4"/>
<ellipse cx="1389.7" cy="84.1" rx="7.7" ry="7.7" fill="#467E78" stroke="#33241a" stroke-width="2"/>
<path d="M 1337.1 151.0 C 1337.1 121.5 1350.9 108.8 1384.0 108.8 C 1416.8 108.8 1430.0 121.5 1430.0 151.0 C 1430.0 179.9 1416.8 192.3 1382.6 192.3 C 1350.9 192.3 1337.1 179.9 1337.1 151.0 Z" fill="#FBF1D8" stroke="#33241a" stroke-width="2.6"/>
<path d="M 1342.7 152.4 C 1342.7 129.2 1352.9 120.7 1379.9 120.7 C 1406.3 120.7 1416.3 129.2 1416.3 152.4 C 1416.3 177.2 1406.3 186.0 1380.4 186.0 C 1352.9 186.0 1342.7 177.2 1342.7 152.4 Z" fill="#FCF5E2" stroke="#CBB78C" stroke-width="2"/>
<ellipse cx="1433.6" cy="152.4" rx="10.5" ry="16.5" fill="#467E78" stroke="#33241a" stroke-width="2.2"/>
<path d="M 1431.7 140.0 C 1425.3 145.5 1425.3 160.6 1432.2 165.6" fill="none" stroke="#23423f" stroke-width="1.3"/>
<ellipse cx="1355.6" cy="154.3" rx="5.5" ry="9.6" fill="#3a2618"/>
<ellipse cx="1392.3" cy="155.4" rx="5.5" ry="9.6" fill="#3a2618"/>
<path d="M 1362.0 172.2 C 1367.5 180.8 1379.9 180.8 1384.6 172.2" fill="none" stroke="#3a2618" stroke-width="2.4"/>
<path d="M 985 265.5 C 1100 259 1350 259 1465 265.5 L 1465 308 L 985 308 Z" fill="url(#tblC)"/>
<path d="M 985 265.5 C 1100 259 1350 259 1465 265.5" stroke="#b0682c" stroke-width="1.2" fill="none"/>
<rect x="985" y="306.6" width="480" height="2.6" fill="#7A3C18"/>
<rect x="985" y="309.2" width="480" height="10" fill="#C87030"/>
<rect x="985" y="319" width="480" height="1.9" fill="#5e2c12"/>
<rect x="985" y="320.9" width="480" height="6" fill="#FBE09C"/>
<rect x="996.5" y="320.5" width="15" height="6" fill="#C0642A" stroke="#5e2c12" stroke-width="1.2"/>
<rect x="1444" y="320.5" width="15.5" height="6" fill="#C0642A" stroke="#5e2c12" stroke-width="1.2"/>
<ellipse cx="1028.3" cy="210.2" rx="12.7" ry="14.3" fill="#3E6F6A" stroke="#33241a" stroke-width="2.2" transform="rotate(-15 1028.3 210.2)"/>
<path d="M 1017.7 210.4 C 1011.0 218.4 1005.5 235.0 1004.1 250.2 C 1005.5 254.6 1013.8 256.0 1021.0 250.4 C 1022.1 240.5 1026.2 229.5 1032.0 221.2 C 1027.6 212.9 1022.1 208.8 1017.7 210.4 Z" fill="#4E827C" stroke="#33241a" stroke-width="2.2"/>
<path d="M 1005.5 252.9 C 1008.3 248.1 1016.6 247.4 1022.1 250.2 C 1027.6 252.9 1033.1 257.1 1036.1 259.8 C 1031.7 266.7 1027.6 273.6 1027.0 279.4 C 1019.3 276.4 1009.7 269.5 1005.5 261.2 C 1004.1 258.4 1004.1 255.7 1005.5 252.9 Z" fill="#4E827C" stroke="#33241a" stroke-width="2.2"/>
<ellipse cx="1422.8" cy="206.3" rx="12.7" ry="13.5" fill="#3E6F6A" stroke="#33241a" stroke-width="2.2" transform="rotate(15 1422.8 206.3)"/>
<path d="M 1424.1 214.3 C 1429.7 208.8 1437.9 210.2 1442.1 217.1 C 1447.6 229.5 1449.8 241.9 1448.4 252.9 C 1446.2 257.3 1437.9 257.3 1432.4 251.8 C 1431.0 240.5 1428.3 226.7 1424.1 214.3 Z" fill="#4E827C" stroke="#33241a" stroke-width="2.2"/>
<path d="M 1448.4 252.9 C 1449.0 261.2 1443.4 269.5 1435.2 275.3 C 1432.4 276.7 1429.7 276.7 1428.8 275.3 C 1428.3 266.7 1424.1 257.1 1421.4 254.3 C 1426.9 250.2 1437.9 248.8 1446.5 250.4 Z" fill="#4E827C" stroke="#33241a" stroke-width="2.2"/>
<ellipse cx="1102" cy="286" rx="52" ry="7" fill="#B06A2A" fill-opacity="0.38" transform="rotate(-8 1102 286)"/>
<ellipse cx="1227" cy="284.5" rx="60" ry="6" fill="#B06A2A" fill-opacity="0.38"/>
<ellipse cx="1357" cy="286" rx="52" ry="7" fill="#B06A2A" fill-opacity="0.38" transform="rotate(7 1357 286)"/>
<path d="M 1042.7 221.5 Q 1042.1 215.8 1047.8 215.4 L 1132.2 210.1 Q 1138.0 209.7 1138.9 215.4 L 1148.0 269.3 Q 1149.0 275.0 1143.3 275.9 L 1056.9 289.3 Q 1051.2 290.2 1050.5 284.5 Z" fill="#6E5542" stroke="#33241a" stroke-width="2.6"/>
<path d="M 1051.4 223.9 Q 1051.0 221.2 1053.8 221.0 L 1127.4 216.8 Q 1130.1 216.6 1130.6 219.3 L 1139.2 267.6 Q 1139.7 270.3 1136.9 270.7 L 1061.4 282.5 Q 1058.7 282.9 1058.3 280.2 Z" fill="#A6CCBF" stroke="#3a2e24" stroke-width="1.4"/>
<path d="M 1066.9 239.2 L 1068.0 261.2 C 1070.4 267.0 1087.0 265.9 1089.5 259.9 L 1088.4 237.3 Z" fill="#F1AE3A" stroke="#5e4216" stroke-width="1.8"/>
<ellipse cx="1077.6" cy="237.8" rx="10.9" ry="3.9" fill="#F6C356" stroke="#5e4216" stroke-width="1.8" transform="rotate(-4 1077.6 237.8)"/>
<path d="M 1106.3 239.2 L 1129.7 236.4 L 1130.5 262.1 L 1107.7 264.8 Z" fill="#E14A22" stroke="#4e2412" stroke-width="1.8"/>
<path d="M 1096.6 232.9 L 1106.3 239.2 L 1107.7 264.8 L 1098.0 257.7 Z" fill="#C53A18" stroke="#4e2412" stroke-width="1.8"/>
<path d="M 1096.6 232.9 L 1120.1 230.1 L 1129.7 236.4 L 1106.3 239.2 Z" fill="#EE6C40" stroke="#4e2412" stroke-width="1.8"/>
<path d="M 1169.5 215.8 Q 1169.5 208.1 1177.3 208.1 L 1275.8 208.1 Q 1283.5 208.1 1283.5 215.8 L 1283.5 275.7 Q 1283.5 283.5 1275.8 283.5 L 1177.3 283.5 Q 1169.5 283.5 1169.5 275.7 Z" fill="#6E5542" stroke="#33241a" stroke-width="2.6"/>
<path d="M 1179.1 217.3 Q 1179.1 214.4 1182.0 214.4 L 1271.1 214.4 Q 1273.9 214.4 1273.9 217.3 L 1273.9 274.2 Q 1273.9 277.1 1271.1 277.1 L 1182.0 277.1 Q 1179.1 277.1 1179.1 274.2 Z" fill="#A6CCBF" stroke="#3a2e24" stroke-width="1.4"/>
<path d="M 1189.7 234.0 L 1216.5 234.0 L 1216.5 262.2 L 1189.7 262.2 Z" fill="#E14A22" stroke="#4e2412" stroke-width="1.8"/>
<path d="M 1189.7 234.0 L 1197.2 227.6 L 1223.7 227.6 L 1216.5 234.0 Z" fill="#EE6C40" stroke="#4e2412" stroke-width="1.8"/>
<path d="M 1216.5 234.0 L 1223.7 227.6 L 1223.7 255.9 L 1216.5 262.2 Z" fill="#C53A18" stroke="#4e2412" stroke-width="1.8"/>
<path d="M 1238.1 234.5 L 1238.1 259.3 C 1239.5 264.5 1260.5 264.5 1262.0 259.3 L 1262.0 234.5 Z" fill="#F1AE3A" stroke="#5e4216" stroke-width="1.8"/>
<ellipse cx="1250.0" cy="234.5" rx="11.9" ry="4.0" fill="#F6C356" stroke="#5e4216" stroke-width="1.8"/>
<path d="M 1319.7 214.6 Q 1320.6 208.9 1326.4 209.5 L 1408.6 217.9 Q 1414.3 218.5 1413.8 224.3 L 1408.0 283.0 Q 1407.4 288.8 1401.7 288.1 L 1315.3 278.4 Q 1309.6 277.8 1310.5 272.1 Z" fill="#6E5542" stroke="#33241a" stroke-width="2.6"/>
<path d="M 1327.8 218.7 Q 1328.3 216.0 1331.0 216.3 L 1402.5 223.5 Q 1405.3 223.8 1405.0 226.5 L 1399.9 279.0 Q 1399.7 281.8 1396.9 281.5 L 1321.5 273.0 Q 1318.8 272.7 1319.2 270.0 Z" fill="#A6CCBF" stroke="#3a2e24" stroke-width="1.4"/>
<path d="M 1333.0 235.1 L 1355.6 237.8 L 1353.4 263.2 L 1329.7 259.9 Z" fill="#E14A22" stroke="#4e2412" stroke-width="1.8"/>
<path d="M 1333.0 235.1 L 1341.3 229.0 L 1363.9 231.8 L 1355.6 237.8 Z" fill="#EE6C40" stroke="#4e2412" stroke-width="1.8"/>
<path d="M 1355.6 237.8 L 1363.9 231.8 L 1361.7 256.6 L 1353.4 263.2 Z" fill="#C53A18" stroke="#4e2412" stroke-width="1.8"/>
<path d="M 1372.1 239.2 L 1370.2 261.2 C 1371.6 266.8 1390.9 268.7 1393.1 263.2 L 1394.8 241.1 Z" fill="#F1AE3A" stroke="#5e4216" stroke-width="1.8"/>
<ellipse cx="1383.5" cy="240.0" rx="11.3" ry="3.9" fill="#F6C356" stroke="#5e4216" stroke-width="1.8" transform="rotate(5 1383.5 240.0)"/>
<path d="M 1026.9 264.0 C 1031.7 255.7 1045.5 255.7 1055.2 262.6 C 1058.6 265.3 1057.9 269.5 1054.5 270.2 C 1056.6 272.9 1054.5 276.4 1051.0 275.7 C 1049.7 279.8 1044.1 282.6 1038.6 281.2 C 1031.7 280.5 1026.2 276.4 1025.5 270.9 C 1025.5 268.1 1025.9 266.0 1026.9 264.0 Z" fill="#3E6F6A" stroke="#33241a" stroke-width="2.2"/>
<path d="M 1040.0 264.0 C 1045.5 264.7 1051.0 267.4 1054.5 270.2 M 1037.9 272.2 C 1042.8 272.2 1047.6 273.9 1051.0 275.7" fill="none" stroke="#33241a" stroke-width="1.8"/>
<path d="M 1158.9 262.8 C 1160.3 255.6 1170.4 252.7 1177.0 257.0 C 1179.0 262.8 1179.0 270.0 1177.0 275.7 C 1170.4 278.6 1160.3 274.3 1158.9 262.8 Z" fill="#467E78" stroke="#33241a" stroke-width="2"/>
<path d="M 1166.1 262.2 C 1170.4 262.2 1174.7 263.9 1177.0 266.2 M 1165.5 268.5 C 1169.5 268.5 1174.1 270.2 1176.4 272.6" fill="none" stroke="#23423f" stroke-width="1.3"/>
<path d="M 1295.6 262.8 C 1294.2 255.6 1284.1 252.7 1277.5 257.0 C 1275.5 262.8 1275.5 270.0 1277.5 275.7 C 1284.1 278.6 1294.2 274.3 1295.6 262.8 Z" fill="#467E78" stroke="#33241a" stroke-width="2"/>
<path d="M 1288.4 262.2 C 1284.1 262.2 1279.8 263.9 1277.5 266.2 M 1289.0 268.5 C 1285.0 268.5 1280.4 270.2 1278.1 272.6" fill="none" stroke="#23423f" stroke-width="1.3"/>
<path d="M 1402.8 266.7 C 1404.8 258.4 1415.9 252.9 1424.1 255.7 C 1429.7 259.8 1431.7 269.5 1429.7 276.4 C 1426.9 281.9 1418.6 283.3 1413.1 281.2 C 1409.0 280.5 1406.2 277.8 1405.5 275.0 C 1402.8 272.9 1402.1 269.5 1402.8 266.7 Z" fill="#3E6F6A" stroke="#33241a" stroke-width="2.2"/>
<path d="M 1404.8 266.7 C 1409.0 264.0 1414.5 262.6 1418.9 263.4 M 1406.2 274.4 C 1410.3 272.2 1415.9 271.6 1420.3 272.2" fill="none" stroke="#33241a" stroke-width="1.8"/>
<path d="M 1184 15 L 1336 15 C 1354 15 1361.5 25 1361.5 40 L 1361.5 64 C 1361.5 80 1352 87.5 1336 87.5 L 1285.5 87.5 C 1282 100 1275 108 1264 114.5 C 1268 106 1270 96 1270 87.5 L 1184 87.5 C 1166 87.5 1158 79 1158 64 L 1158 40 C 1158 24 1166 15 1184 15 Z" fill="#F9EDCC" fill-opacity="0.95"/>
<g font-family="'Liberation Sans', Arial, sans-serif" font-size="20.5" fill="#3a2a22" stroke="#3a2a22" stroke-width="0.6">
<text x="1175.6" y="44.2" textLength="163" lengthAdjust="spacingAndGlyphs">The red cube is to</text>
<text x="1181.6" y="69.9" textLength="170" lengthAdjust="spacingAndGlyphs">the left of cylinder.</text>
</g>
<path d="M 1011.7 47.5 C 1009.7 36.6 1018.6 28.7 1028.5 30.7 C 1031.5 20.8 1048.3 15.9 1059.2 21.8 C 1068.1 16.9 1083.9 18.8 1087.8 28.7 C 1097.7 30.7 1103.7 40.6 1099.7 50.5 C 1103.7 60.4 1095.8 68.3 1085.9 67.3 C 1081.9 75.2 1068.1 78.2 1059.2 73.2 C 1050.3 79.2 1034.4 77.2 1030.5 69.3 C 1018.6 69.3 1008.7 59.4 1011.7 47.5 Z" fill="#FBF0D2" stroke="#33241a" stroke-width="2.6"/>
<ellipse cx="1059.8" cy="88.5" rx="5.7" ry="5.7" fill="#FBF0D2" stroke="#33241a" stroke-width="2.2"/>
<text x="1056.3" y="53.5" font-family="'Liberation Sans', Arial, sans-serif" font-weight="bold" font-size="19.5" fill="#3a2418" text-anchor="middle" textLength="67" lengthAdjust="spacingAndGlyphs">&lt;think&gt;</text>
<path d="M 1442.6 295.5 C 1443.6 301.5 1445.5 303.5 1451.5 304.5 C 1445.5 305.5 1443.6 307.5 1442.6 313.5 C 1441.6 307.5 1439.7 305.5 1433.7 304.5 C 1439.7 303.5 1441.6 301.5 1442.6 295.5 Z" fill="#FBE6D0" fill-opacity="0.75"/>
</g>
<text class="cap" x="250.6" y="367.3">(a) Supervised Learning</text>
<text class="cap" x="738.3" y="367.3">(b) Reinforcement Learning</text>
<text class="cap" x="1225.4" y="367.3">(c) Vision-Zero</text>
<g id="chart">
<g stroke="#9a3a10" stroke-opacity="0.32" stroke-width="1">
<rect x="126.91" y="581.75" width="21.03" height="150.45" fill="#FFFDE0"/>
<rect x="147.94" y="536.62" width="21.03" height="195.59" fill="#FBEDAB"/>
<rect x="168.97" y="551.66" width="21.03" height="180.54" fill="#F5CE6F"/>
<rect x="190.00" y="518.56" width="21.03" height="213.64" fill="#EE9944"/>
<rect x="211.03" y="500.51" width="21.03" height="231.69" fill="#D36B2D"/>
<rect x="232.06" y="515.55" width="21.03" height="216.65" fill="#622911"/>
<rect x="288.91" y="581.75" width="21.03" height="150.45" fill="#FFFDE0"/>
<rect x="309.94" y="578.74" width="21.03" height="153.46" fill="#FBEDAB"/>
<rect x="330.97" y="584.76" width="21.03" height="147.44" fill="#F5CE6F"/>
<rect x="352.00" y="557.68" width="21.03" height="174.52" fill="#EE9944"/>
<rect x="373.03" y="470.42" width="21.03" height="261.78" fill="#D36B2D"/>
<rect x="394.06" y="488.47" width="21.03" height="243.73" fill="#622911"/>
<rect x="450.91" y="581.75" width="21.03" height="150.45" fill="#FFFDE0"/>
<rect x="471.94" y="590.78" width="21.03" height="141.42" fill="#FBEDAB"/>
<rect x="492.97" y="581.75" width="21.03" height="150.45" fill="#F5CE6F"/>
<rect x="514.00" y="602.81" width="21.03" height="129.39" fill="#EE9944"/>
<rect x="535.03" y="494.49" width="21.03" height="237.71" fill="#D36B2D"/>
<rect x="556.06" y="479.44" width="21.03" height="252.76" fill="#622911"/>
<rect x="612.91" y="581.75" width="21.03" height="150.45" fill="#FFFDE0"/>
<rect x="633.94" y="560.69" width="21.03" height="171.51" fill="#FBEDAB"/>
<rect x="654.97" y="720.16" width="21.03" height="12.04" fill="#F5CE6F"/>
<rect x="676.00" y="521.57" width="21.03" height="210.63" fill="#EE9944"/>
<rect x="697.03" y="512.54" width="21.03" height="219.66" fill="#D36B2D"/>
<rect x="718.06" y="506.53" width="21.03" height="225.68" fill="#622911"/>
<rect x="774.91" y="581.75" width="21.03" height="150.45" fill="#FFFDE0"/>
<rect x="816.97" y="635.91" width="21.03" height="96.29" fill="#F5CE6F"/>
<rect x="859.03" y="575.73" width="21.03" height="156.47" fill="#D36B2D"/>
<rect x="880.06" y="548.65" width="21.03" height="183.55" fill="#622911"/>
<rect x="936.91" y="581.75" width="21.03" height="150.45" fill="#FFFDE0"/>
<rect x="978.97" y="644.94" width="21.03" height="87.26" fill="#F5CE6F"/>
<rect x="1000.00" y="650.96" width="21.03" height="81.24" fill="#EE9944"/>
<rect x="1021.03" y="578.74" width="21.03" height="153.46" fill="#D36B2D"/>
<rect x="1042.06" y="548.65" width="21.03" height="183.55" fill="#622911"/>
<rect x="1098.91" y="581.75" width="21.03" height="150.45" fill="#FFFDE0"/>
<rect x="1119.94" y="641.93" width="21.03" height="90.27" fill="#FBEDAB"/>
<rect x="1140.97" y="662.99" width="21.03" height="69.21" fill="#F5CE6F"/>
<rect x="1162.00" y="629.89" width="21.03" height="102.31" fill="#EE9944"/>
<rect x="1183.03" y="569.71" width="21.03" height="162.49" fill="#D36B2D"/>
<rect x="1204.06" y="578.74" width="21.03" height="153.46" fill="#622911"/>
<rect x="1260.91" y="581.75" width="21.03" height="150.45" fill="#FFFDE0"/>
<rect x="1281.94" y="617.86" width="21.03" height="114.34" fill="#FBEDAB"/>
<rect x="1302.97" y="647.95" width="21.03" height="84.25" fill="#F5CE6F"/>
<rect x="1324.00" y="569.71" width="21.03" height="162.49" fill="#EE9944"/>
<rect x="1345.03" y="521.57" width="21.03" height="210.63" fill="#D36B2D"/>
<rect x="1366.06" y="554.67" width="21.03" height="177.53" fill="#622911"/>
</g>
<g stroke="#b0b0b0" stroke-opacity="0.55" stroke-width="1.3">
<line x1="64.1" x2="1450.7" y1="672.02" y2="672.02"/>
<line x1="64.1" x2="1450.7" y1="611.84" y2="611.84"/>
<line x1="64.1" x2="1450.7" y1="551.66" y2="551.66"/>
<line x1="64.1" x2="1450.7" y1="491.48" y2="491.48"/>
</g>
<line x1="757.0" x2="757.0" y1="431.3" y2="732.2" stroke="#808080" stroke-width="2" stroke-dasharray="7.6 3.3"/>
<line x1="1081.0" x2="1081.0" y1="431.3" y2="732.2" stroke="#808080" stroke-width="2" stroke-dasharray="7.6 3.3"/>
<rect x="64.1" y="431.3" width="1386.60" height="300.90" fill="none" stroke="#555" stroke-width="1.5"/>
<line x1="64.1" x2="1450.7" y1="431.3" y2="431.3" stroke="#888" stroke-width="2"/>
<line x1="64.1" x2="1450.7" y1="732.2" y2="732.2" stroke="#222" stroke-width="1.5"/>
<g stroke="#222" stroke-width="1.4">
<line x1="58.30" x2="64.1" y1="732.20" y2="732.20"/>
<line x1="58.30" x2="64.1" y1="672.02" y2="672.02"/>
<line x1="58.30" x2="64.1" y1="611.84" y2="611.84"/>
<line x1="58.30" x2="64.1" y1="551.66" y2="551.66"/>
<line x1="58.30" x2="64.1" y1="491.48" y2="491.48"/>
<line x1="58.30" x2="64.1" y1="431.30" y2="431.30"/>
<line x1="190.0" x2="190.0" y1="732.2" y2="738.00"/>
<line x1="352.0" x2="352.0" y1="732.2" y2="738.00"/>
<line x1="514.0" x2="514.0" y1="732.2" y2="738.00"/>
<line x1="676.0" x2="676.0" y1="732.2" y2="738.00"/>
<line x1="838.0" x2="838.0" y1="732.2" y2="738.00"/>
<line x1="1000.0" x2="1000.0" y1="732.2" y2="738.00"/>
<line x1="1162.0" x2="1162.0" y1="732.2" y2="738.00"/>
<line x1="1324.0" x2="1324.0" y1="732.2" y2="738.00"/>
</g>
<g font-family="'DejaVu Sans', 'Liberation Sans', sans-serif" font-size="19.5" fill="#000" text-anchor="end">
<text x="53.2" y="739.95">0</text>
<text x="53.2" y="679.77">2</text>
<text x="53.2" y="619.59">4</text>
<text x="53.2" y="559.41">6</text>
<text x="53.2" y="499.23">8</text>
<text x="53.2" y="439.05">10</text>
</g>
<text transform="translate(19,582) rotate(-90)" text-anchor="middle" font-family="'DejaVu Sans', 'Liberation Sans', sans-serif" font-size="20.45" fill="#000">Δ Acc (%)</text>
<g font-family="'DejaVu Serif', 'Liberation Serif', serif" font-weight="bold" font-size="20.45" fill="#000" text-anchor="middle">
<text x="366.4" y="459">Reasoning and Mathematics</text>
<text x="918.5" y="459">Chart and Document</text>
<text x="1241.5" y="459">Vision-Centric</text>
</g>
<clipPath id="clipLab"><rect x="0" y="730" width="1470" height="90.3"/></clipPath>
<g clip-path="url(#clipLab)" font-family="'DejaVu Serif', 'Liberation Serif', serif" font-size="20.45" fill="#000" text-anchor="middle">
<g transform="translate(190.5,787.0) rotate(-25.0)"><text x="-1" y="-6.2">MathVision</text><text x="1" y="16.8">(68.2%)</text></g>
<g transform="translate(352.5,780.2) rotate(-25.0)"><text x="-1" y="-6.2">WeMath</text><text x="1" y="16.8">(62.1%)</text></g>
<g transform="translate(514.5,785.1) rotate(-25.0)"><text x="-1" y="-6.2">LogicVista</text><text x="1" y="16.8">(47.2%)</text></g>
<g transform="translate(676.5,779.2) rotate(-25.0)"><text x="-1" y="-6.2">MMMu</text><text x="1" y="16.8">(45.7%)</text></g>
<g transform="translate(838.5,781.2) rotate(-25.0)"><text x="-1" y="-6.2">ChartQA</text><text x="1" y="16.8">(86.1%)</text></g>
<g transform="translate(1000.5,780.3) rotate(-25.0)"><text x="-1" y="-6.2">DocVQA</text><text x="1" y="16.8">(94.8%)</text></g>
<g transform="translate(1162.5,791.0) rotate(-25.0)"><text x="-1" y="-6.2">RealworldQA</text><text x="1" y="16.8">(68.1%)</text></g>
<g transform="translate(1324.5,779.2) rotate(-25.0)"><text x="-1" y="-6.2">BLINK</text><text x="1" y="16.8">(55.2%)</text></g>
</g>
<rect x="72.5" y="666.3" width="905" height="57.6" rx="3.5" fill="#fff" fill-opacity="0.8" stroke="#ccc" stroke-opacity="0.8" stroke-width="1.3"/>
<g font-family="'DejaVu Serif', 'Liberation Serif', serif" font-size="17.73" fill="#000">
<rect x="80" y="674.6" width="35.8" height="12.4" fill="#FFFDE0" stroke="#9a3a10" stroke-opacity="0.32"/>
<rect x="80" y="701" width="35.8" height="12.4" fill="#FBEDAB" stroke="#9a3a10" stroke-opacity="0.32"/>
<text x="129.7" y="687.2">Qwen2.5-VL-7B-Instruct</text>
<text x="129.7" y="713.6">MM-Eureka-Qwen-7B</text>
<rect x="382.3" y="674.6" width="35.8" height="12.4" fill="#F5CE6F" stroke="#9a3a10" stroke-opacity="0.32"/>
<rect x="382.3" y="701" width="35.8" height="12.4" fill="#EE9944" stroke="#9a3a10" stroke-opacity="0.32"/>
<text x="432.0" y="687.2">VLAA-Thinker-7B</text>
<text x="432.0" y="713.6">ViGaL-Snake+Rotation</text>
<rect x="676" y="674.6" width="35.8" height="12.4" fill="#D36B2D" stroke="#9a3a10" stroke-opacity="0.32"/>
<rect x="676" y="701" width="35.8" height="12.4" fill="#622911" stroke="#9a3a10" stroke-opacity="0.32"/>
<text x="725.7" y="687.2">VisioZero-Qwen-7B (Clevr)</text>
<text x="725.7" y="713.6">VisioZero-Qwen-7B (Chart)</text>
</g>
</g>
</svg>
</body></html>
